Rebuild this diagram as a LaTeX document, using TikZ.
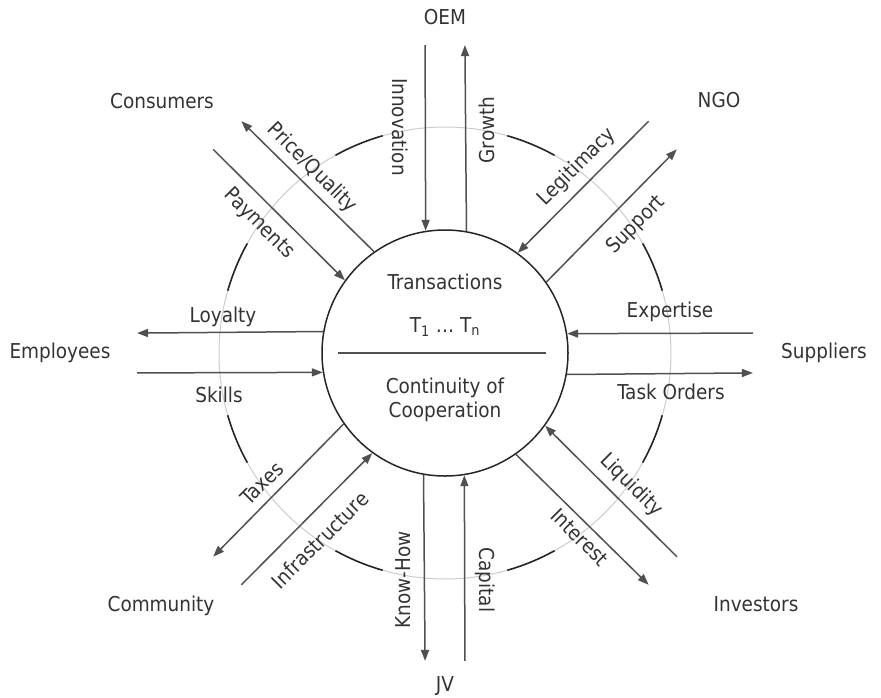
\documentclass[tikz,border=0pt]{standalone}
\usepackage{fontspec}
\setmainfont{DejaVu Sans Condensed}
\usetikzlibrary{arrows.meta,calc}
\definecolor{ink}{HTML}{333333}
\definecolor{flowgray}{HTML}{505050}
\definecolor{ringlight}{HTML}{CCCCCC}
\definecolor{ringdark}{HTML}{262626}

\begin{document}
\begin{tikzpicture}[x=1pt,y=1pt,
  flow/.style={draw=flowgray, line width=1.5pt, -{Triangle[length=11pt,width=8pt]}},
  lbl/.style={text=ink, font=\fontsize{20.5}{24}\selectfont, inner sep=0pt},
  party/.style={lbl},
]
\useasboundingbox (0,0) rectangle (881,-697);
\coordinate (O) at (445,-353);

% outer ring: light circle with a dark dash between each pair of flows
\draw[ringlight, line width=1pt] (O) circle[radius=226];
\foreach \m in {22.5,67.5,...,337.5}{
  \draw[ringdark, line width=1.6pt] ($(O)+(\m-6.5:226)$) arc[start angle=\m-6.5, end angle=\m+6.5, radius=226];
}

% central hub
\node[circle, draw=ringdark, line width=1.5pt, minimum size=246pt, inner sep=0pt] (hub) at (O) {};
\coordinate (divL) at ($(hub.center)+(-107,0)$);
\coordinate (divR) at ($(hub.center)+(101,0)$);
\draw[flowgray, line width=1.3pt] (divL) -- (divR);
\node[lbl] (tx) at (445,-282) {Transactions};
\node[lbl] (tn) at (445,-327) {T\textsubscript{1} … T\textsubscript{n}};
\node[lbl, align=center] (cc) at (445,-400) {Continuity of\\Cooperation};

% flow end points and arrows for the eight partners
\foreach \d/\a in {N/90,NE/45,E/0,SE/-45,S/-90,SW/-135,W/180,NW/135}{
  \pgfmathsetmacro\pa{mod(\a+9.4+360,360)}
  \pgfmathsetmacro\pb{mod(\a-9.4+360,360)}
  \coordinate (\d-ia) at (hub.\pa);
  \coordinate (\d-ib) at (hub.\pb);
  \coordinate (\d-oa) at ($(O)+(\a+3.7:308.6)$);
  \coordinate (\d-ob) at ($(O)+(\a-3.7:308.6)$);
  \draw[flow] (\d-oa) -- (\d-ia);
  \draw[flow] (\d-ib) -- (\d-ob);
}

% flow labels
\node[lbl, rotate=-90] (l-innov) at (400,-127) {Innovation};
\node[lbl, rotate=90]  (l-growth) at (487,-130) {Growth};
\node[lbl, rotate=45]  (l-legit) at (577,-167) {Legitimacy};
\node[lbl, rotate=45]  (l-support) at (636,-225) {Support};
\node[lbl]             (l-expert) at (670,-312) {Expertise};
\node[lbl]             (l-task) at (671,-392) {Task Orders};
\node[lbl, rotate=-45] (l-liquid) at (631,-485) {Liquidity};
\node[lbl, rotate=-45] (l-interest) at (580,-537) {Interest};
\node[lbl, rotate=90]  (l-know) at (403,-580) {Know-How};
\node[lbl, rotate=-90] (l-capital) at (485,-580) {Capital};
\node[lbl, rotate=45]  (l-taxes) at (262,-483) {Taxes};
\node[lbl, rotate=45]  (l-infra) at (320,-540) {Infrastructure};
\node[lbl]             (l-loyal) at (223,-317) {Loyalty};
\node[lbl]             (l-skills) at (219,-395) {Skills};
\node[lbl, rotate=-45] (l-price) at (312,-168) {Price/Quality};
\node[lbl, rotate=-45] (l-pay) at (259,-224) {Payments};

% partners
\node[party] (oem) at (445,-17) {OEM};
\node[party] (ngo) at (719,-100) {NGO};
\node[party] (sup) at (824,-353) {Suppliers};
\node[party] (inv) at (756,-604) {Investors};
\node[party] (jv) at (445,-686) {JV};
\node[party] (com) at (161,-606) {Community};
\node[party] (emp) at (60,-353) {Employees};
\node[party] (con) at (162,-101) {Consumers};
\end{tikzpicture}
\end{document}
